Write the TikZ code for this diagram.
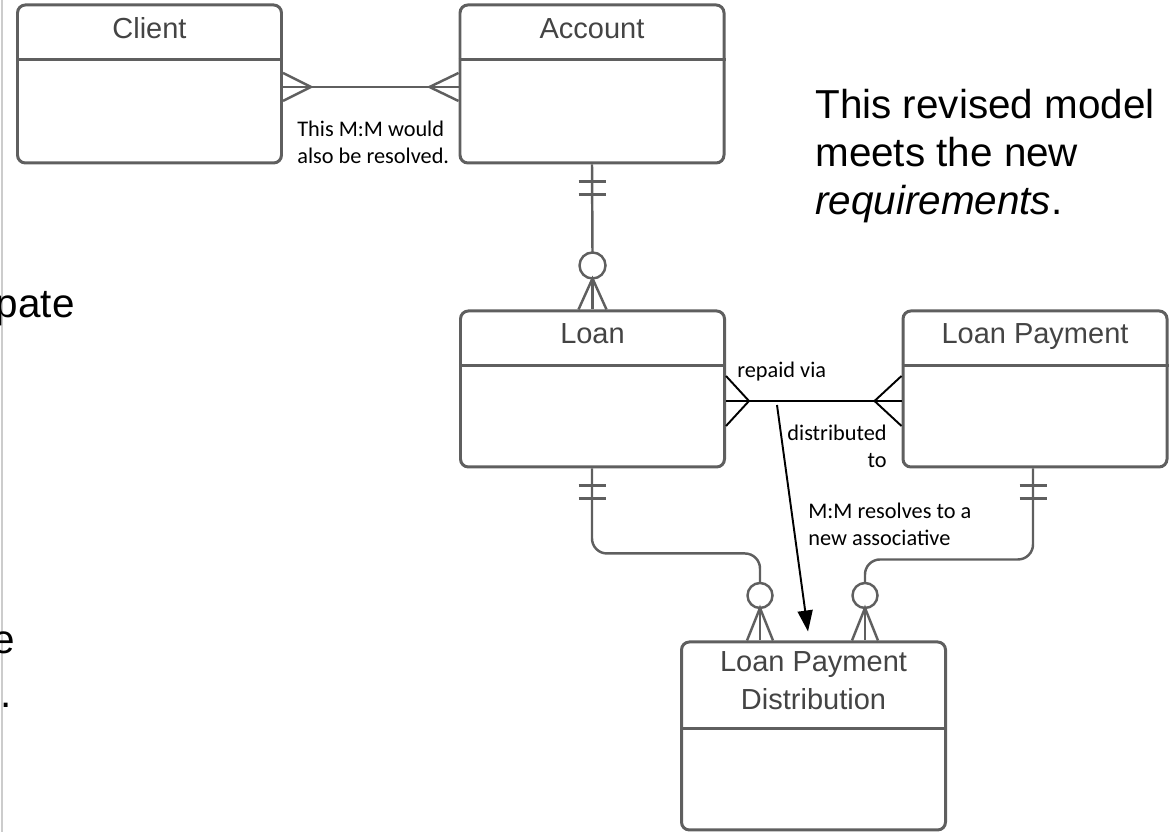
\documentclass[tikz,border=0pt]{standalone}
\usepackage{fontspec}
\setmainfont{Liberation Sans}
\newfontfamily\notefont{Carlito}
\usetikzlibrary{
	arrows.meta,
	calc,
	positioning
}
\definecolor{BoxGray}{RGB}{95,95,95}
\definecolor{TitleGray}{RGB}{68,68,68}

\tikzset{
	entity/.style={draw=BoxGray, line width=1.7pt, rounded corners=4.5pt, minimum width=5.28cm, inner sep=0pt},
	etitle/.style={text=TitleGray, font=\fontsize{16.5}{21.5}\selectfont, inner sep=0pt, align=center},
	erline/.style={draw=BoxGray, line width=1.4pt},
	noteline/.style={draw=black, line width=1.1pt},
	note/.style={font=\notefont\fontsize{12.7}{15.5}\selectfont, inner sep=0pt, align=left},
	bigtext/.style={font=\fontsize{23}{27.4}\selectfont, inner sep=0pt, align=left}
}

\begin{document}
\begin{tikzpicture}
	\useasboundingbox (0,0) rectangle (23.52,16.64);
	\draw[gray!40, line width=1.2pt] (0.04,0) -- (0.04,16.64);
	
	% Entitaeten
	\node[entity, minimum height=3.16cm] (client) at (2.99,14.96) {};
	\node[entity, minimum height=3.16cm] (account) at (11.84,14.96) {};
	\node[entity, minimum height=3.12cm] (loan) at (11.85,8.86) {};
	\node[entity, minimum height=3.12cm] (payment) at (20.70,8.86) {};
	\node[entity, minimum height=3.76cm] (distrib) at (16.27,1.92) {};
	
	\foreach \e in {client,account,loan,payment}
		\draw[erline, line width=1.7pt] ([yshift=-1.12cm]\e.north west) -- ([yshift=-1.12cm]\e.north east);
	\draw[erline, line width=1.7pt] ([yshift=-1.76cm]distrib.north west) -- ([yshift=-1.76cm]distrib.north east);
	
	\node[etitle, anchor=base] (clientname) at ([yshift=-0.70cm]client.north) {Client};
	\node[etitle, anchor=base] (accountname) at ([yshift=-0.70cm]account.north) {Account};
	\node[etitle, anchor=base] (loanname) at ([yshift=-0.68cm]loan.north) {Loan};
	\node[etitle, anchor=base] (paymentname) at ([yshift=-0.68cm]payment.north) {Loan Payment};
	\node[etitle] (distribname) at ([yshift=-0.80cm]distrib.north) {Loan Payment\\Distribution};
	
	% Client -- Account (M:M)
	\coordinate (ca1) at ([yshift=-0.06cm]client.east);
	\coordinate (ca2) at ([yshift=-0.06cm]account.west);
	\draw[erline] (ca1) -- (ca2);
	\draw[erline] (ca1) ++(0,0.28) -- ++(0.56,-0.28) -- ++(-0.56,-0.28);
	\draw[erline] (ca2) ++(0,0.28) -- ++(-0.58,-0.28) -- ++(0.58,-0.28);
	\node[note, anchor=west] (mmnote) at (5.94,13.79) {This M:M would\\also be resolved.};
	
	% Account -- Loan
	\coordinate (al1) at (account.south);
	\coordinate (al2) at (loan.north);
	\draw[erline] (al1) -- ($(al2)+(0,1.14)$);
	\draw[erline] ($(al1)+(-0.27,-0.34)$) -- ++(0.54,0);
	\draw[erline] ($(al1)+(-0.27,-0.60)$) -- ++(0.54,0);
	\draw[erline] ($(al2)+(0,0.88)$) circle (0.26);
	\draw[erline] ($(al2)+(0,0.62)$) -- (al2);
	\draw[erline] ($(al2)+(-0.28,0)$) -- ($(al2)+(0,0.62)$) -- ($(al2)+(0.28,0)$);
	
	% Loan -- Loan Payment (M:M)
	\coordinate (lp1) at ([yshift=-0.24cm]loan.east);
	\coordinate (lp2) at ([yshift=-0.24cm]payment.west);
	\draw[noteline] (lp1) -- (lp2);
	\draw[noteline] (lp1) ++(0,0.5) -- ++(0.46,-0.5) -- ++(-0.46,-0.5);
	\draw[noteline] (lp2) ++(0,0.5) -- ++(-0.54,-0.5) -- ++(0.54,-0.5);
	\node[note, anchor=west] (repaid) at ($(lp1)+(0.22,0.58)$) {repaid via};
	\node[note, align=right, anchor=east] (distributed) at (17.74,7.72) {distributed\\to};
	\node[note, anchor=west] (resolves) at (16.16,6.16) {M:M resolves to a\\new associative};
	
	\coordinate (arrstart) at ($(lp1)+(1.02,-0.08)$);
	\coordinate (arrend) at ($(distrib.north)+(-0.11,0.18)$);
	\draw[noteline, -{Triangle[length=0.42cm,width=0.30cm]}] (arrstart) -- (arrend);
	
	% Loan -- Distribution
	\coordinate (ld1) at ([xshift=-0.01cm]loan.south);
	\coordinate (ld2) at ([xshift=-1.07cm]distrib.north);
	\coordinate (ldmid) at ($(ld1)+(0,-1.70)$);
	\draw[erline, rounded corners=0.3cm] (ld1) -- (ldmid) -- (ld2 |- ldmid) -- ($(ld2)+(0,1.15)$);
	\draw[erline] ($(ld1)+(-0.27,-0.34)$) -- ++(0.54,0);
	\draw[erline] ($(ld1)+(-0.27,-0.60)$) -- ++(0.54,0);
	\draw[erline] ($(ld2)+(0,0.90)$) circle (0.25);
	\draw[erline] ($(ld2)+(0,0.65)$) -- (ld2);
	\draw[erline] ($(ld2)+(-0.26,0)$) -- ($(ld2)+(0,0.65)$) -- ($(ld2)+(0.26,0)$);
	
	% Loan Payment -- Distribution
	\coordinate (pd1) at ([xshift=-0.04cm]payment.south);
	\coordinate (pd2) at ([xshift=1.03cm]distrib.north);
	\coordinate (pdmid) at ($(pd1)+(0,-1.82)$);
	\draw[erline, rounded corners=0.3cm] (pd1) -- (pdmid) -- (pd2 |- pdmid) -- ($(pd2)+(0,1.15)$);
	\draw[erline] ($(pd1)+(-0.27,-0.34)$) -- ++(0.54,0);
	\draw[erline] ($(pd1)+(-0.27,-0.60)$) -- ++(0.54,0);
	\draw[erline] ($(pd2)+(0,0.90)$) circle (0.25);
	\draw[erline] ($(pd2)+(0,0.65)$) -- (pd2);
	\draw[erline] ($(pd2)+(-0.26,0)$) -- ($(pd2)+(0,0.65)$) -- ($(pd2)+(0.26,0)$);
	
	% Texte
	\node[bigtext, anchor=base west] (remark) at (16.30,12.34) {This revised model\\meets the new\\\textit{requirements}.};
	\node[bigtext, anchor=base east] (fragp) at (1.50,10.28) {pate};
	\node[bigtext, anchor=base east] (frage) at (0.30,3.56) {e};
	\node[bigtext, anchor=base east] (frags) at (0.24,2.48) {s.};
\end{tikzpicture}
\end{document}
